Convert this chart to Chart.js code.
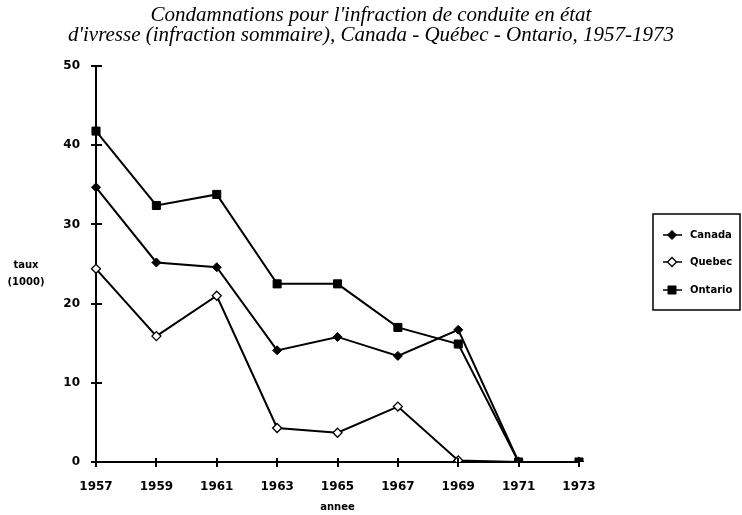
<!DOCTYPE html>
<html>
<head>
<meta charset="utf-8">
<script src="https://cdn.jsdelivr.net/npm/chart.js@4/dist/chart.umd.min.js"></script>
<style>
html,body{margin:0;padding:0;background:#fff;}
#wrap{width:742px;height:515px;position:relative;}
</style>
</head>
<body>
<div id="wrap"><canvas id="c" width="742" height="515"></canvas></div>
<script>
const years = ['1957','1959','1961','1963','1965','1967','1969','1971','1973'];
const canada  = [34.7, 25.2, 24.6, 14.1, 15.8, 13.4, 16.7, 0, 0];
const quebec  = [24.4, 15.9, 21.0, 4.3, 3.7, 7.0, 0.2, 0, 0];
const ontario = [41.8, 32.4, 33.8, 22.5, 22.5, 17.0, 14.9, 0, 0];
const yTicks = [0, 10, 20, 30, 40, 50];
const titleLines = ["Condamnations pour l'infraction de conduite en état",
                    "d'ivresse (infraction sommaire), Canada - Québec - Ontario, 1957-1973"];
const yTitle = ['taux', '(1000)'];
const xTitle = 'annee';

const crossTicks = {
  id: 'crossTicks',
  afterDraw(chart) {
    const ctx = chart.ctx, ca = chart.chartArea;
    const x = chart.scales.x, y = chart.scales.y;
    ctx.save();
    ctx.strokeStyle = '#000';
    ctx.lineWidth = 2;
    y.ticks.forEach(t => {
      const py = Math.round(y.getPixelForValue(t.value));
      ctx.beginPath(); ctx.moveTo(ca.left - 5, py); ctx.lineTo(ca.left + 6, py); ctx.stroke();
    });
    x.ticks.forEach((t, i) => {
      const px = Math.round(x.getPixelForTick(i));
      ctx.beginPath(); ctx.moveTo(px, ca.bottom - 4); ctx.lineTo(px, ca.bottom + 5); ctx.stroke();
    });
    // y title
    ctx.fillStyle = '#000';
    ctx.font = 'bold 10px "DejaVu Sans"';
    ctx.textAlign = 'center';
    ctx.textBaseline = 'middle';
    ctx.fillText(yTitle[0], 26, 265);
    ctx.fillText(yTitle[1], 26, 282);
    // legend
    const bx = 653, by = 214, bw = 87, bh = 96;
    ctx.lineWidth = 1.5;
    ctx.strokeRect(bx, by, bw, bh);
    const rows = [235, 262, 290];
    chart.data.datasets.forEach((ds, i) => {
      const ry = rows[i];
      ctx.strokeStyle = '#000';
      ctx.lineWidth = 1.5;
      ctx.beginPath(); ctx.moveTo(663, ry); ctx.lineTo(682, ry); ctx.stroke();
      ctx.fillStyle = ds.pointBackgroundColor;
      ctx.strokeStyle = ds.pointBorderColor;
      ctx.lineWidth = ds.pointBorderWidth;
      Chart.helpers.drawPoint(ctx, {
        pointStyle: ds.pointStyle, radius: ds.pointRadius, rotation: 0, borderWidth: ds.pointBorderWidth
      }, 672, ry);
      ctx.fillStyle = '#000';
      ctx.font = 'bold 10px "DejaVu Sans"';
      ctx.textAlign = 'left';
      ctx.textBaseline = 'middle';
      ctx.fillText(ds.label, 690, ry);
    });
    ctx.restore();
  }
};

Chart.defaults.font.family = '"DejaVu Sans"';
Chart.defaults.color = '#000';

new Chart(document.getElementById('c'), {
  type: 'line',
  data: {
    labels: years,
    datasets: [
      { label: 'Canada', data: canada, borderColor: '#000', borderWidth: 2,
        pointStyle: 'rectRot', pointRadius: 4.5, pointBackgroundColor: '#000',
        pointBorderColor: '#000', pointBorderWidth: 1, tension: 0 },
      { label: 'Quebec', data: quebec, borderColor: '#000', borderWidth: 2,
        pointStyle: 'rectRot', pointRadius: 4.5, pointBackgroundColor: '#fff',
        pointBorderColor: '#000', pointBorderWidth: 1.3, tension: 0 },
      { label: 'Ontario', data: ontario, borderColor: '#000', borderWidth: 2,
        pointStyle: 'rect', pointRadius: 5.7, pointBackgroundColor: '#000',
        pointBorderColor: '#000', pointBorderWidth: 1, tension: 0 }
    ]
  },
  options: {
    responsive: false,
    animation: false,
    devicePixelRatio: 1,
    layout: { padding: { left: 0, right: 0, top: 0, bottom: 0 } },
    plugins: {
      legend: { display: false },
      tooltip: { enabled: false },
      title: {
        display: true,
        text: titleLines,
        font: { family: '"Liberation Serif"', style: 'italic', size: 21, weight: 'normal', lineHeight: 0.98 },
        color: '#000',
        padding: { top: 5, bottom: 20 }
      }
    },
    scales: {
      x: {
        offset: false,
        grid: { display: false },
        border: { display: true, color: '#000', width: 2 },
        ticks: { font: { family: '"DejaVu Sans"', size: 12, weight: 'bold' }, color: '#000',
                 padding: 10, maxRotation: 0, autoSkip: false },
        title: { display: true, text: xTitle, font: { family: '"DejaVu Sans"', size: 10, weight: 'bold' },
                 color: '#000', padding: { top: 4, bottom: 2 } },
        afterFit(s) { s.height = 53; }
      },
      y: {
        min: 0, max: 50,
        afterBuildTicks(s) { s.ticks = yTicks.map(v => ({ value: v })); },
        grid: { display: false },
        border: { display: true, color: '#000', width: 2 },
        ticks: { font: { family: '"DejaVu Sans"', size: 12, weight: 'bold' }, color: '#000',
                 padding: 8 },
        afterFit(s) { s.width = 96; }
      },
      yr: {
        position: 'right',
        display: true,
        grid: { display: false },
        border: { display: false },
        ticks: { display: false },
        afterFit(s) { s.width = 163; }
      }
    }
  },
  plugins: [crossTicks]
});
</script>
</body>
</html>
